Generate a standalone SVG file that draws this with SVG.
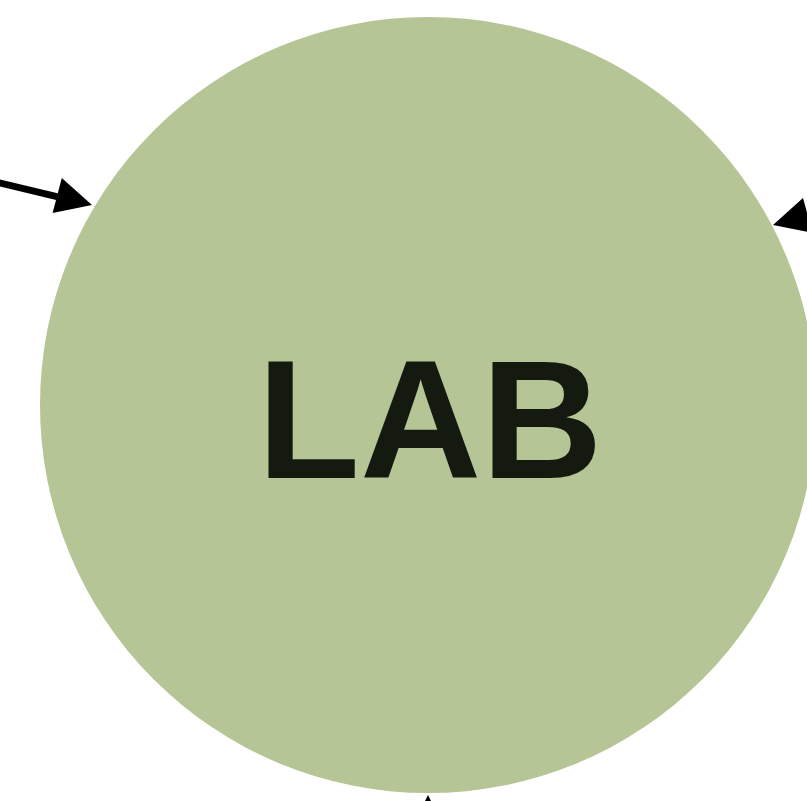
<svg xmlns="http://www.w3.org/2000/svg" width="807" height="801" viewBox="0 0 807 801">
<style>
.conn{stroke:#000;stroke-width:7;fill:none}
.head{fill:#000}
.label{font-family:"Liberation Sans",Arial,sans-serif;font-weight:bold;font-size:168px;fill:#151a10}
</style>
<rect width="807" height="801" fill="#fff"/>
<g id="lab">
<circle cx="428" cy="405" r="388" fill="#b5c595"/>
<text class="label" x="430" y="478" text-anchor="middle">LAB</text>
</g>
<g id="connectors">
<line class="conn" x1="-20" y1="178.2" x2="60" y2="197.4"/>
<polygon class="head" points="92,205 61.8,178.1 52.6,213.1"/>
<polygon class="head" points="773,225 803,198 812.6,232.8"/>
<polygon class="head" points="428,795 410,831 446,831"/>
</g>
</svg>
